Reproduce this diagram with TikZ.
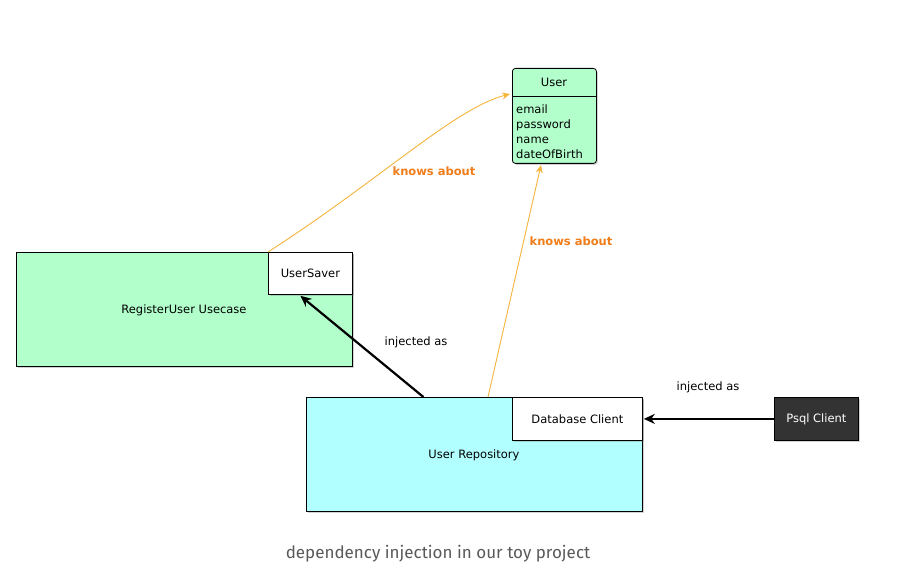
\documentclass[tikz,border=0pt]{standalone}
\usepackage{fontspec}
\setmainfont{DejaVu Sans}
\newfontfamily\captionfont{Fira Sans}
\usetikzlibrary{arrows.meta}
\usetikzlibrary{shadows}
\usetikzlibrary{positioning}
\tikzset{box/.style = {draw, line width=0.8pt, anchor=north west, inner sep=0pt,
                       drop shadow={shadow xshift=1.5pt, shadow yshift=-1.5pt, opacity=0.35},
                       font=\fontsize{11.5}{14.5}\selectfont},
         inject/.style = {-{Stealth[length=11pt, width=10pt]}, line width=2.2pt},
         knows/.style = {-{Stealth[length=8pt, width=7pt]}, draw=morange, line width=0.9pt},
         knowslabel/.style = {text=mtext, font=\fontsize{11.5}{14}\selectfont\bfseries},
         plain/.style = {font=\fontsize{11.5}{14.5}\selectfont}}
\definecolor{mgreen}{RGB}{178, 255, 204}
\definecolor{mcyan}{RGB}{178, 255, 255}
\definecolor{mdark}{RGB}{51, 51, 51}
\definecolor{morange}{RGB}{245, 180, 60}
\definecolor{mtext}{RGB}{240, 125, 25}
\definecolor{mgray}{RGB}{90, 90, 90}

\begin{document}
\begin{tikzpicture}[x=1pt, y=1pt]
    \useasboundingbox [fill=white] (0, 0) rectangle (909, 576);

    \node [box, fill=mgreen, minimum width=336, minimum height=114] (usecase) at (16, 324) {};
    \node [plain] (usecasetext) at (184, 266) {RegisterUser Usecase};
    \node [box, fill=white, minimum width=84, minimum height=42] (saver) at (268, 324) {UserSaver};

    \node [box, fill=mcyan, minimum width=336, minimum height=114] (repo) at (306, 179) {};
    \node [plain] (repotext) at (474, 121) {User Repository};
    \node [box, fill=white, minimum width=130, minimum height=43] (dbclient) at (512, 179) {Database Client};
    \node [box, fill=mdark, text=white, minimum width=84, minimum height=43] (psql) at (774, 179) {Psql Client};

    \node [box, fill=mgreen, rounded corners=3pt, minimum width=84, minimum height=95] (user) at (512, 508) {};
    \node [plain] (usertitle) at (554, 494) {User};
    \draw [line width=0.8pt] (512, 480) -- (596, 480);
    \node [font=\fontsize{11.5}{15}\selectfont, anchor=north west, align=left, inner sep=0pt] (userattr) at (516, 471)
          {email\\password\\name\\dateOfBirth};

    \draw [inject] ([xshift=-51]repo.north) -- ([xshift=-10, yshift=-1]saver.south);
    \draw [inject] (psql.west) -- ([xshift=1]dbclient.east);
    \node [plain] (inj1) at (416, 234) {injected as};
    \node [plain] (inj2) at (708, 189) {injected as};

    \draw [knows] (saver.north west) .. controls (380, 396) and (455, 468) .. (510, 482);
    \draw [knows] (488, 179) -- (541, 411);
    \node [knowslabel] (k1) at (434, 405) {knows about};
    \node [knowslabel] (k2) at (571, 335) {knows about};

    \node [text=mgray, font=\captionfont\fontsize{17}{20}\selectfont] (caption) at (438, 22)
          {dependency injection in our toy project};
  \end{tikzpicture}
\end{document}
